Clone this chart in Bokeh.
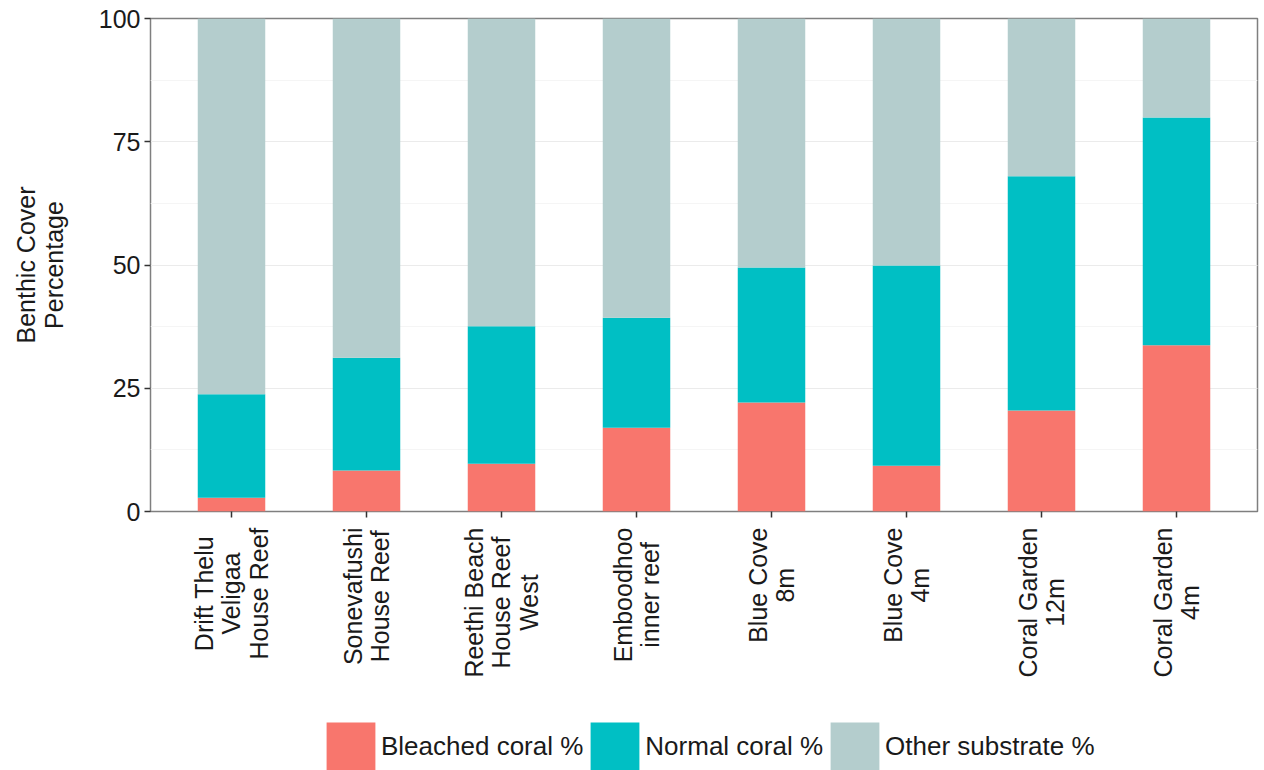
import math
from bokeh.plotting import figure
from bokeh.models import (FactorRange, Range1d, SingleIntervalTicker, Legend, LegendItem,
                          ColumnDataSource)
from bokeh.core.properties import value
from bokeh.layouts import column
from bokeh.embed import file_html
from bokeh.resources import INLINE

sites = ["Drift Thelu\nVeligaa\nHouse Reef", "Sonevafushi\nHouse Reef",
         "Reethi Beach\nHouse Reef\nWest", "Emboodhoo\ninner reef",
         "Blue Cove\n8m", "Blue Cove\n4m", "Coral Garden\n12m", "Coral Garden\n4m"]
bleached = [2.8, 8.3, 9.7, 17.0, 22.1, 9.3, 20.5, 33.7]
normal = [21.0, 22.9, 27.9, 22.3, 27.4, 40.6, 47.5, 46.2]
other = [76.2, 68.8, 62.4, 60.7, 50.5, 50.1, 32.0, 20.1]
series = ["Bleached coral %", "Normal coral %", "Other substrate %"]
colors = ["#F8766D", "#00BFC4", "#B4CDCD"]
y_tick_interval = 25

FONT = "Liberation Sans"
TXT = "#1a1a1a"
W = 1264
H_MAIN = 527
H_BOTTOM = 770 - H_MAIN
LEFT, RIGHT = 150, 7

source = ColumnDataSource(dict(site=sites, b=bleached, n=normal, o=other))
xr = FactorRange(*sites, range_padding=0.1, range_padding_units="absolute")

# ---- main chart ----
p = figure(x_range=xr, y_range=Range1d(0, 100), width=W, height=H_MAIN,
           output_backend="svg", toolbar_location=None,
           min_border_left=LEFT, min_border_right=RIGHT, min_border_top=18, min_border_bottom=16)

p.vbar_stack(["b", "n", "o"], x="site", width=0.5, color=colors, line_color=None,
             source=source)

p.background_fill_color = "white"
p.border_fill_color = "white"
p.outline_line_color = "#7f7f7f"
p.outline_line_width = 1.5

p.xgrid.grid_line_color = None
p.yaxis.ticker = SingleIntervalTicker(interval=y_tick_interval, num_minor_ticks=2)
p.ygrid.grid_line_color = "#EBEBEB"
p.ygrid.grid_line_width = 1
p.ygrid.minor_grid_line_color = "#F5F5F5"
p.ygrid.minor_grid_line_width = 1

for ax in (p.xaxis, p.yaxis):
    ax.axis_line_color = None
    ax.major_tick_line_color = "#333333"
    ax.major_tick_line_width = 1.5
    ax.major_tick_out = 6
    ax.major_tick_in = 0
    ax.minor_tick_line_color = None
    ax.major_label_text_font = FONT
    ax.major_label_text_color = TXT

p.yaxis.major_label_text_font_size = "25px"
p.yaxis.major_label_standoff = 4
p.yaxis.axis_label = "Benthic Cover\nPercentage"
p.yaxis.axis_label_text_font = FONT
p.yaxis.axis_label_text_font_size = "25px"
p.yaxis.axis_label_text_font_style = "normal"
p.yaxis.axis_label_text_color = TXT
p.yaxis.axis_label_text_line_height = 1.0
p.yaxis.axis_label_standoff = 28

# category labels are drawn (centred, multi-line) in the panel below
p.xaxis.major_label_text_font_size = "1px"
p.xaxis.major_label_text_color = None
p.xaxis.major_label_standoff = 0
p.xaxis.major_label_orientation = math.pi / 2

# ---- bottom panel: category labels + legend ----
p2 = figure(x_range=xr, y_range=Range1d(-H_BOTTOM, 0), width=W, height=H_BOTTOM,
            output_backend="svg", toolbar_location=None,
            x_axis_location=None, y_axis_location=None,
            min_border_left=LEFT, min_border_right=RIGHT, min_border_top=0, min_border_bottom=0)
p2.grid.grid_line_color = None
p2.outline_line_color = None
p2.background_fill_color = "white"
p2.border_fill_color = "white"

p2.text(x=sites, y=0, text=sites, angle=math.pi / 2, anchor="center_right",
        text_align="center", text_font=value(FONT), text_font_size="25px",
        text_color=TXT, text_line_height=0.98)

# legend keys (renderers hidden; the bars themselves are in the main chart)
keys = p2.vbar_stack(["b", "n", "o"], x="site", width=0.5, color=colors,
                     line_color=None, source=source, visible=False)

legend = Legend(items=[LegendItem(label=s, renderers=[r]) for s, r in zip(series, keys)],
                orientation="horizontal", location=(320 - LEFT, -6),
                glyph_width=61, glyph_height=60, label_height=60,
                label_standoff=0, spacing=1, padding=0, margin=0,
                border_line_color=None, background_fill_alpha=0,
                label_text_font=FONT, label_text_font_size="26px", label_text_color=TXT)
p2.add_layout(legend, "center")

layout = column(p, p2, spacing=0)
open("out.html", "w").write(file_html(layout, INLINE))
